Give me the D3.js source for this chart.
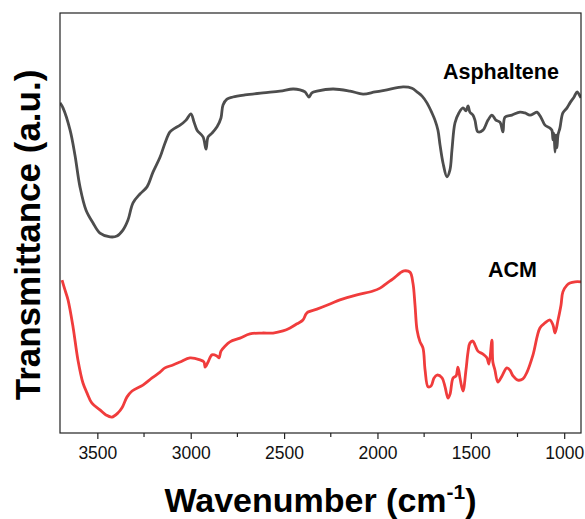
<!DOCTYPE html>
<html>
<head>
<meta charset="utf-8">
<script src="https://cdn.jsdelivr.net/npm/d3@7"></script>
<style>
  html, body { margin: 0; padding: 0; background: #fff; }
  svg { display: block; }
</style>
</head>
<body>
<div id="chart"></div>
<script>
// -------- Data --------
const asphalteneWn = [3700,3684,3646,3620,3593,3561,3523,3486,3432,3395,3363,3336,3309,3272,3234,3202,3164,3138,3111,3084,3057,3025,2999,2982,2966,2934,2918,2907,2886,2859,2838,2827,2806,2774,2709,2613,2522,2452,2415,2388,2367,2351,2324,2238,2147,2077,2013,1949,1863,1815,1788,1761,1735,1708,1692,1676,1665,1649,1628,1612,1601,1585,1564,1542,1526,1515,1505,1489,1478,1462,1435,1408,1387,1366,1344,1328,1317,1280,1237,1210,1183,1157,1146,1125,1103,1076,1066,1060,1055,1049,1044,1039,1033,1023,1007,985,969,947,931,915,910];
const asphalteneT  = [78.6,77.4,72.1,66.2,58.6,53.1,50.0,47.6,46.7,46.9,48.3,50.7,54.8,56.9,58.6,62.1,65.7,69.0,71.7,72.6,73.3,74.5,76.0,74.0,72.1,70.5,67.6,70.5,71.4,72.9,75.0,78.1,79.5,80.0,80.5,81.0,81.4,81.9,81.7,81.2,80.0,81.0,81.4,81.9,81.4,80.7,81.2,81.7,82.4,82.1,81.2,80.2,78.6,76.2,74.5,72.1,68.6,64.3,61.0,62.6,67.4,73.8,76.2,77.4,76.7,77.9,76.4,75.7,74.5,71.7,72.1,74.5,75.7,74.5,74.0,71.7,75.2,75.7,76.4,76.2,75.7,76.2,76.4,75.2,73.3,72.6,72.1,69.8,71.4,66.9,71.0,67.9,71.0,72.6,76.2,77.4,78.6,80.0,81.2,80.2,79.8];

const acmWn = [3689,3673,3657,3630,3604,3577,3555,3529,3486,3454,3422,3389,3368,3341,3314,3256,3207,3164,3138,3095,3057,3004,2950,2929,2923,2907,2886,2859,2848,2838,2816,2790,2736,2683,2618,2559,2506,2468,2431,2399,2383,2372,2324,2254,2201,2110,2024,1986,1949,1917,1879,1858,1826,1810,1799,1788,1772,1756,1745,1729,1713,1697,1681,1654,1638,1622,1611,1595,1579,1569,1558,1542,1526,1515,1505,1489,1478,1462,1435,1414,1403,1387,1382,1371,1355,1333,1307,1291,1274,1248,1221,1199,1167,1130,1103,1076,1060,1049,1033,1017,1007,985,969,942,910];
const acmT  = [36.4,34.0,31.7,25.2,17.4,11.9,9.5,7.1,5.5,4.3,3.8,4.8,6.0,8.6,10.0,11.4,13.1,14.5,15.5,16.2,16.9,17.9,17.4,16.9,15.7,16.9,18.6,18.3,17.9,19.5,20.7,21.7,22.6,23.6,23.8,23.8,24.3,25.0,26.0,26.9,28.3,28.8,29.5,30.7,31.7,32.9,33.8,34.5,35.7,36.7,38.1,38.6,38.3,35.7,30.5,24.5,21.7,20.2,15.0,11.0,11.2,13.1,13.8,13.1,11.0,8.3,9.3,13.1,13.6,15.7,13.1,10.0,15.0,19.3,21.4,21.9,21.0,19.5,18.8,17.9,16.4,22.1,16.9,15.0,12.1,13.6,15.5,15.0,13.6,12.6,12.9,14.5,18.6,25.0,26.2,26.9,25.7,23.8,26.9,30.5,33.6,35.2,35.7,36.0,36.0];

const xTicks = [3500, 3000, 2500, 2000, 1500, 1000];
const xMinorTicks = [3250, 2750, 2250, 1750, 1250];

const seriesNames = ['Asphaltene', 'ACM'];

// -------- Dimensions --------
const svgWidth = 585, svgHeight = 519;
const margin = { top: 13, right: 4, bottom: 86, left: 60 };
const width  = svgWidth - margin.left - margin.right;
const height = svgHeight - margin.top - margin.bottom;

const svg = d3.select('#chart')
  .append('svg')
    .attr('width', svgWidth)
    .attr('height', svgHeight);

const ctr = svg.append('g')
    .attr('transform', `translate(${margin.left},${margin.top})`);

// -------- Scales --------
const xScale = d3.scaleLinear().domain([3700, 910]).range([0, width]);
const yScale = d3.scaleLinear().domain([0, 100]).range([height, 0]);

// -------- Lines --------
const line = d3.line()
  .x(d => xScale(d[0]))
  .y(d => yScale(d[1]))
  .curve(d3.curveCatmullRom.alpha(0.5));

svg.append('clipPath').attr('id', 'plotclip')
  .append('rect').attr('width', width).attr('height', height);

const plot = ctr.append('g').attr('clip-path', 'url(#plotclip)');

plot.append('path')
  .datum(d3.zip(asphalteneWn, asphalteneT))
  .attr('fill', 'none')
  .attr('stroke', '#4d4d4d')
  .attr('stroke-width', 2.8)
  .attr('stroke-linejoin', 'round')
  .attr('d', line);

plot.append('path')
  .datum(d3.zip(acmWn, acmT))
  .attr('fill', 'none')
  .attr('stroke', '#f03c3c')
  .attr('stroke-width', 2.8)
  .attr('stroke-linejoin', 'round')
  .attr('d', line);

// -------- Frame --------
ctr.append('rect')
  .attr('width', width)
  .attr('height', height)
  .attr('fill', 'none')
  .attr('stroke', '#222')
  .attr('stroke-width', 1.2);

// -------- X Axis --------
const xAxis = ctr.append('g')
  .attr('transform', `translate(0,${height})`)
  .call(d3.axisBottom(xScale).tickValues(xTicks).tickFormat(d3.format('d'))
    .tickSize(6).tickSizeOuter(0).tickPadding(8));
xAxis.select('.domain').remove();
xAxis.selectAll('line').attr('stroke', '#222').attr('stroke-width', 1.2);
xAxis.selectAll('text')
  .attr('fill', '#111')
  .style('font-family', '"Liberation Sans", Arial, sans-serif')
  .style('font-size', '17.5px');

ctr.append('g')
  .attr('transform', `translate(0,${height})`)
  .selectAll('line')
  .data(xMinorTicks)
  .join('line')
    .attr('x1', d => xScale(d)).attr('x2', d => xScale(d))
    .attr('y1', 0).attr('y2', 4)
    .attr('stroke', '#222').attr('stroke-width', 1.2);

// -------- Series labels --------
const labelFont = '"Liberation Sans", Arial, sans-serif';
svg.append('text')
  .attr('x', 443).attr('y', 79)
  .style('font-family', labelFont).style('font-weight', 'bold').style('font-size', '21.5px')
  .attr('fill', '#000')
  .text(seriesNames[0]);
svg.append('text')
  .attr('x', 488).attr('y', 277)
  .style('font-family', labelFont).style('font-weight', 'bold').style('font-size', '21.5px')
  .attr('fill', '#000')
  .text(seriesNames[1]);

// -------- Axis titles --------
const xt = svg.append('text')
  .attr('x', margin.left + width / 2)
  .attr('y', 512)
  .attr('text-anchor', 'middle')
  .style('font-family', labelFont).style('font-weight', 'bold').style('font-size', '34px')
  .attr('fill', '#000');
xt.append('tspan').text('Wavenumber (cm');
xt.append('tspan').attr('dy', -13).style('font-size', '21px').text('-1');
xt.append('tspan').attr('dy', 13).text(')');

svg.append('text')
  .attr('transform', `translate(40,${margin.top + height / 2 + 12}) rotate(-90)`)
  .attr('text-anchor', 'middle')
  .style('font-family', labelFont).style('font-weight', 'bold').style('font-size', '35px')
  .attr('fill', '#000')
  .text('Transmittance (a.u.)');
</script>
</body>
</html>
